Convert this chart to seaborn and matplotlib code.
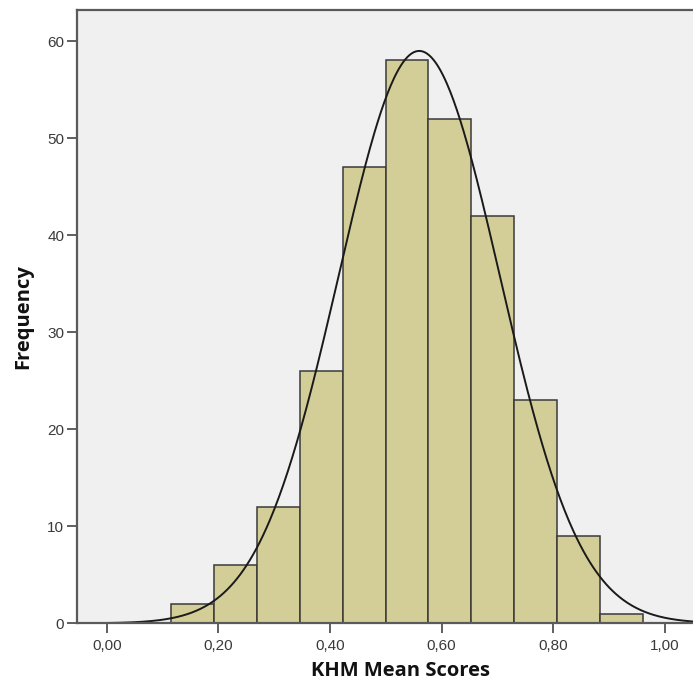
import numpy as np
import pandas as pd
import matplotlib
matplotlib.use("Agg")
import matplotlib.pyplot as plt
import seaborn as sns
from matplotlib.ticker import FuncFormatter

# Histogram of KHM mean scores (bin edges and counts per bin)
bin_start = 0.1152
bin_width = 0.0769
counts = [2, 6, 12, 26, 47, 58, 52, 42, 23, 9, 1]

# Fitted normal curve parameters
curve_mean = 0.560
curve_sd = 0.1446

x_ticks = [0.0, 0.2, 0.4, 0.6, 0.8, 1.0]
y_ticks = [0, 10, 20, 30, 40, 50, 60]

n_bins = len(counts)
bin_end = bin_start + bin_width * n_bins
centers = bin_start + bin_width * (np.arange(n_bins) + 0.5)
df = pd.DataFrame({"score": centers, "n": counts})

sns.set_style("ticks")
plt.rcParams["font.family"] = ["Liberation Sans", "DejaVu Sans"]

fig = plt.figure(figsize=(6.93, 6.84), dpi=100)
# plot frame runs past the right edge of the canvas
ax = fig.add_axes([0.1107, 0.0887, 0.9355, 0.8967])
ax.set_facecolor("#F0F0F0")

sns.histplot(data=df, x="score", weights="n", bins=n_bins,
             binrange=(bin_start, bin_end), stat="count",
             color="#D3CE97", alpha=1.0, edgecolor="#3a3a3a", linewidth=1.1,
             ax=ax)

n_total = sum(counts)
xs = np.linspace(-0.06, 1.12, 600)
ys = n_total * bin_width / (curve_sd * np.sqrt(2 * np.pi)) * np.exp(-0.5 * ((xs - curve_mean) / curve_sd) ** 2)
sns.lineplot(x=xs, y=ys, color="#1a1a1a", linewidth=1.4, ax=ax)

ax.set_xlim(-0.0538, 1.108)
ax.set_ylim(0, 63.2)
ax.set_xticks(x_ticks)
ax.set_yticks(y_ticks)
ax.xaxis.set_major_formatter(FuncFormatter(lambda v, p: f"{v:.2f}".replace(".", ",")))

for s in ["left", "top", "bottom"]:
    ax.spines[s].set_color("#5a5a5a")
    ax.spines[s].set_linewidth(1.6)
ax.spines["right"].set_visible(False)

ax.tick_params(axis="both", direction="out", length=7, width=1.2, color="#444444",
               labelcolor="#3a3a3a", labelsize=11, pad=2)
ax.tick_params(axis="x", pad=4)

ax.set_xlabel("KHM Mean Scores", fontsize=14.5, fontweight="bold",
              family=["Open Sans", "DejaVu Sans"], color="#111111", labelpad=6)
ax.set_ylabel("Frequency", fontsize=14.5, fontweight="bold",
              family=["Open Sans", "DejaVu Sans"], color="#111111", labelpad=10)

fig.savefig("out.png", dpi=100, facecolor="white")
